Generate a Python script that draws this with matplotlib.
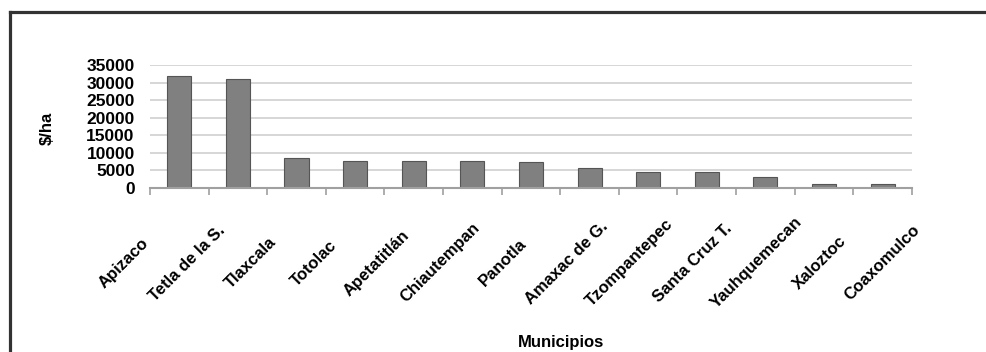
import numpy as np
import matplotlib
matplotlib.use('Agg')
import matplotlib.pyplot as plt
from matplotlib.lines import Line2D
from matplotlib.transforms import ScaledTranslation

plt.rcParams['font.family'] = ['Liberation Sans', 'DejaVu Sans']
plt.rcParams['font.weight'] = 'bold'

# costo por hectarea por municipio
municipios = ['Apizaco', 'Tetla de la S.', 'Tlaxcala', 'Totolac', 'Apetatitlán',
              'Chiautempan', 'Panotla', 'Amaxac de G.', 'Tzompantepec',
              'Santa Cruz T.', 'Yauhquemecan', 'Xaloztoc', 'Coaxomulco']
costo = [32000, 31000, 8500, 7600, 7600, 7600, 7300, 5800, 4600, 4600, 3200, 1100, 1100]
yticks = [0, 5000, 10000, 15000, 20000, 25000, 30000, 35000]

fig = plt.figure(figsize=(9.86, 3.52), dpi=100)
ax = fig.add_axes([0.1521, 0.4659, 0.7728, 0.3494])

x = np.arange(len(municipios))
ax.bar(x, costo, width=0.41, color='#808080', edgecolor='#555555', linewidth=0.8, zorder=3)

ax.set_xlim(-0.5, len(municipios) - 0.5)
ax.set_ylim(0, 35000)
ax.set_yticks(yticks)
ax.set_yticklabels([str(v) for v in yticks], fontsize=12.5, fontweight='bold')
ax.yaxis.grid(True, color='#cfcfcf', linewidth=1.2, zorder=0)
ax.tick_params(axis='y', length=0, pad=11)

for s in ['left', 'right', 'top']:
    ax.spines[s].set_visible(False)
ax.spines['bottom'].set_color('#a0a0a0')
ax.spines['bottom'].set_linewidth(1.5)
ax.spines['bottom'].set_zorder(4)

# separadores entre categorias
ax.set_xticks(np.arange(len(municipios) + 1) - 0.5, minor=True)
ax.tick_params(axis='x', which='minor', length=5, width=1.2, color='#a0a0a0')

ax.set_xticks(x)
ax.set_xticklabels(municipios, rotation=45, ha='center', va='center',
                   rotation_mode='anchor', fontsize=12, fontweight='bold')
ax.tick_params(axis='x', which='major', length=0, pad=54)
n = len(municipios)
for i, lbl in enumerate(ax.get_xticklabels()):
    dx = (i - (n - 1)) * 4.6 / 100
    lbl.set_transform(lbl.get_transform() + ScaledTranslation(dx, 0, fig.dpi_scale_trans))

fig.text(47 / 986, 1 - 128 / 352, r'\$/ha', rotation=90, ha='center', va='center',
         fontsize=12, fontweight='bold')
fig.text(561 / 986, 1 - 342 / 352, 'Municipios', ha='center', va='center',
         fontsize=12, fontweight='bold')

# marco exterior
fig.add_artist(Line2D([10 / 986, 10 / 986], [0, 1 - 11.5 / 352],
                      transform=fig.transFigure, color='#333333', linewidth=2.3))
fig.add_artist(Line2D([10 / 986, 1], [1 - 11.5 / 352, 1 - 11.5 / 352],
                      transform=fig.transFigure, color='#333333', linewidth=2.3))

fig.savefig('out.png', dpi=100)
